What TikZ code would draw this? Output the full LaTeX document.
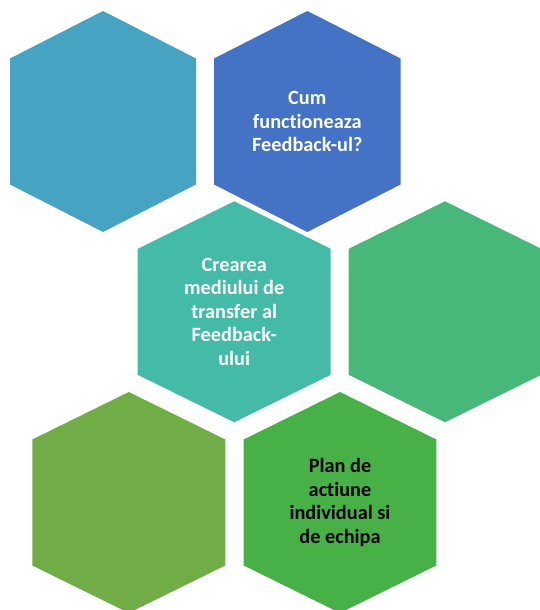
\documentclass[tikz,border=0pt]{standalone}
\usepackage{fontspec}
\setmainfont{Carlito}[Ligatures=NoCommon]

\definecolor{hexsky}{RGB}{70,163,194}
\definecolor{hexblue}{RGB}{68,114,196}
\definecolor{hexteal}{RGB}{68,187,167}
\definecolor{hexmint}{RGB}{71,184,122}
\definecolor{hexolive}{RGB}{112,173,71}
\definecolor{hexgreen}{RGB}{71,177,72}

\tikzset{hexlabel/.style={align=center,inner sep=0pt,font=\fontsize{20.3}{23.5}\selectfont\bfseries,text=white}}

% centre, half-width, colour
\newcommand{\hexcell}[3]{\fill[#3] (#1) ++(0,-110.5) -- ++(#2,47.5) -- ++(0,126) -- ++(-#2,47.5) -- ++(-#2,-47.5) -- ++(0,-126) -- cycle;}

\begin{document}
\begin{tikzpicture}[x=1pt,y=-1pt]
	\useasboundingbox (0,0) rectangle (540,610);
	\clip (0,0) rectangle (540,610);
	\foreach \n/\x/\y/\w/\c in {sky/103/121.5/93/hexsky, blue/307.3/121.5/93.3/hexblue, teal/234.2/311.8/96.5/hexteal, mint/445/311.8/96.3/hexmint, olive/128.8/502.5/96.5/hexolive, green/340/502.5/96.3/hexgreen}
	{\coordinate (\n) at (\x,\y); \hexcell{\n}{\w}{\c}}
	
	\node[hexlabel] (cum) at (blue) {Cum\\functioneaza\\Feedback-ul?};
	\node[hexlabel] (mediu) at (teal) {Crearea\\mediului de\\transfer al\\Feedback-\\ului};
	\node[hexlabel,text=black] (plan) at (green) {Plan de\\actiune\\individual si\\de echipa};
\end{tikzpicture}
\end{document}
